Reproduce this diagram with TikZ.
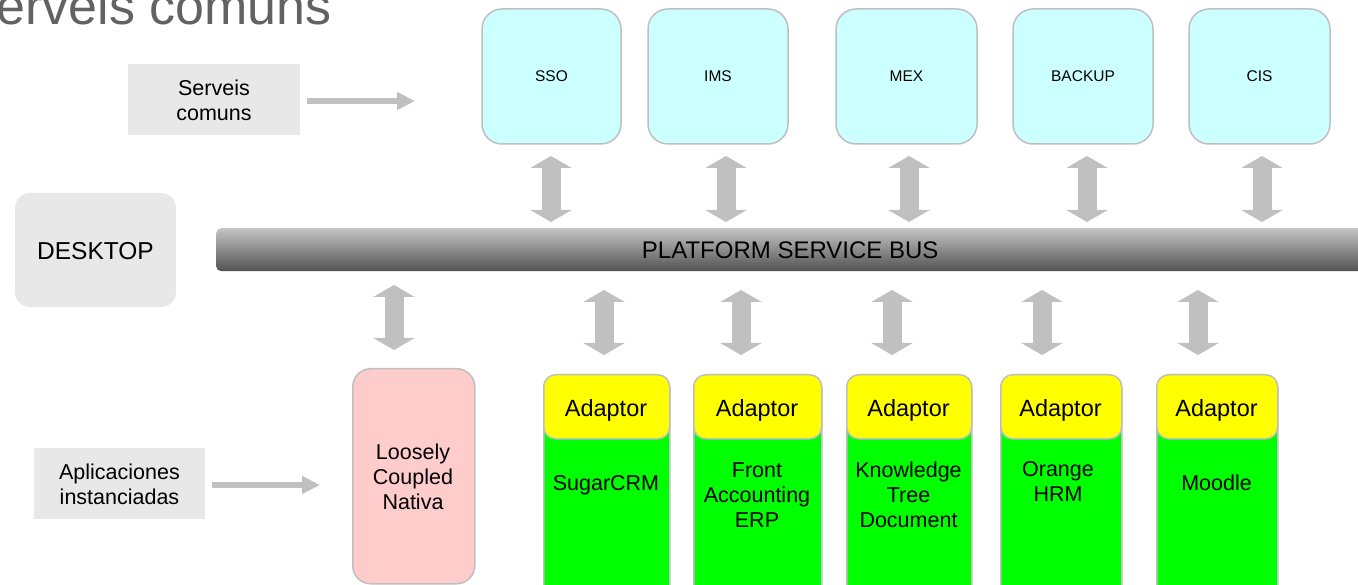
\documentclass[tikz,border=0pt]{standalone}
\usepackage{fontspec}
\setmainfont{Liberation Sans}
\usetikzlibrary{arrows.meta}
\definecolor{svcfill}{HTML}{CCFFFF}
\definecolor{pinkfill}{HTML}{FFCCCC}
\definecolor{appgreen}{HTML}{00FF00}
\definecolor{adyellow}{HTML}{FFFF00}
\definecolor{edgegray}{HTML}{BFBFBF}
\definecolor{boxgray}{HTML}{E8E8E8}
\definecolor{arrgray}{HTML}{C0C0C0}
\definecolor{titlegray}{HTML}{626262}
\tikzset{
  svcbox/.style={draw=edgegray, line width=1.5pt, fill=svcfill, rounded corners=20pt,
    minimum width=139pt, minimum height=135pt, inner sep=0pt,
    font=\fontsize{15.5}{18}\selectfont},
  labelbox/.style={fill=boxgray, minimum width=172pt, minimum height=71pt, inner sep=0pt},
  bigtxt/.style={font=\fontsize{21.5}{25}\selectfont, align=center, inner sep=0pt},
  appbox/.style={draw=edgegray, line width=1.5pt, fill=appgreen, rounded corners=15pt,
    minimum height=226pt, inner sep=0pt, anchor=north west},
  adbox/.style={draw=edgegray, line width=1.5pt, fill=adyellow, rounded corners=12pt,
    minimum height=64pt, inner sep=0pt, anchor=north},
  adtxt/.style={font=\fontsize{23.5}{27}\selectfont, inner sep=0pt, anchor=base},
  dblarrow/.style={draw=arrgray, line width=19pt,
    {Triangle[length=12pt,width=41pt]}-{Triangle[length=12pt,width=41pt]}},
  onearrow/.style={draw=arrgray, line width=6pt, -{Triangle[length=18pt,width=17pt]}}
}
\begin{document}
\begin{tikzpicture}[x=1pt,y=-1pt]
\useasboundingbox (0,0) rectangle (1358,585);
\clip (0,0) rectangle (1358,585);

% title
\node[anchor=base east, inner sep=0pt, font=\fontsize{52}{58}\selectfont, text=titlegray] (title) at (332,25) {Serveis comuns};

% left labels
\node[labelbox] (servlbl) at (214,99.5) {};
\node[bigtxt] (servtxt) at (214,100) {Serveis\\comuns};
\node[labelbox, minimum width=171pt] (aplbl) at (119.5,483.5) {};
\node[bigtxt] (aptxt) at (119.5,484) {Aplicaciones\\instanciadas};
\coordinate (sa1) at (307,101);
\coordinate (sa2) at (415,101);
\draw[onearrow] (sa1) -- (sa2);
\coordinate (aa1) at (212,485);
\coordinate (aa2) at (320,485);
\draw[onearrow] (aa1) -- (aa2);

% desktop
\node[fill=boxgray, rounded corners=15pt, minimum width=161pt, minimum height=114pt, inner sep=0pt] (desk) at (95.5,250) {};
\node[anchor=base, inner sep=0pt, font=\fontsize{24.5}{28}\selectfont] (desktxt) at (95.5,260) {DESKTOP};

% service boxes
\node[svcbox] (sso) at (551.5,76.5) {SSO};
\node[svcbox, minimum width=140pt] (ims) at (718,76.5) {IMS};
\node[svcbox, minimum width=141pt] (mex) at (906.5,76.5) {MEX};
\node[svcbox, minimum width=140pt] (backup) at (1083,76.5) {BACKUP};
\node[svcbox, minimum width=141pt] (cis) at (1259.5,76.5) {CIS};

% bus
\node[anchor=north west, minimum width=1148pt, minimum height=43pt, inner sep=0pt,
  rounded corners=5pt, top color=black!23, middle color=black!31, bottom color=black!68,
  font=\fontsize{24}{28}\selectfont, text height=17.5pt, text depth=0pt] (bus) at (216,228) {PLATFORM SERVICE BUS};

% upper double arrows
\foreach \i/\x in {1/551,2/726,3/909,4/1087,5/1262}{
  \coordinate (u\i a) at (\x,156);
  \coordinate (u\i b) at (\x,222);
  \draw[dblarrow] (u\i a) -- (u\i b);
}
% lower double arrows
\coordinate (l0a) at (394,285);
\coordinate (l0b) at (394,350);
\draw[dblarrow] (l0a) -- (l0b);
\foreach \i/\x in {1/604,2/741,3/892,4/1042,5/1198}{
  \coordinate (l\i a) at (\x,290);
  \coordinate (l\i b) at (\x,355);
  \draw[dblarrow] (l\i a) -- (l\i b);
}

% loosely coupled
\node[draw=edgegray, line width=1.5pt, fill=pinkfill, rounded corners=18pt,
  minimum width=122pt, minimum height=215pt, inner sep=0pt, anchor=north west] (loose) at (352,368) {};
\node[bigtxt] (loosetxt) at (413,476.5) {Loosely\\Coupled\\Nativa};

% application boxes
\node[appbox, minimum width=126pt] (sugar) at (543,374) {};
\node[appbox, minimum width=128pt] (front) at (693,374) {};
\node[appbox, minimum width=125pt] (know) at (846,374) {};
\node[appbox, minimum width=121pt] (orange) at (1000,374) {};
\node[appbox, minimum width=121pt] (moodle) at (1156,374) {};

\node[adbox, minimum width=126pt] (ad1) at (sugar.north) {};
\node[adbox, minimum width=128pt] (ad2) at (front.north) {};
\node[adbox, minimum width=125pt] (ad3) at (know.north) {};
\node[adbox, minimum width=121pt] (ad4) at (orange.north) {};
\node[adbox, minimum width=121pt] (ad5) at (moodle.north) {};

\node[adtxt] (adt1) at (606,416) {Adaptor};
\node[adtxt] (adt2) at (757,416) {Adaptor};
\node[adtxt] (adt3) at (908.5,416) {Adaptor};
\node[adtxt] (adt4) at (1060.5,416) {Adaptor};
\node[adtxt] (adt5) at (1216.5,416) {Adaptor};

\node[bigtxt, anchor=base] (sugartxt) at (606,490.5) {SugarCRM};
\node[bigtxt] (fronttxt) at (757,495) {Front\\Accounting\\ERP};
\node[bigtxt] (knowtxt) at (908.5,494.8) {Knowledge\\Tree\\Document};
\node[bigtxt] (orangetxt) at (1058,481.7) {Orange\\HRM};
\node[bigtxt, anchor=base] (moodletxt) at (1216.5,490) {Moodle};
\end{tikzpicture}
\end{document}
